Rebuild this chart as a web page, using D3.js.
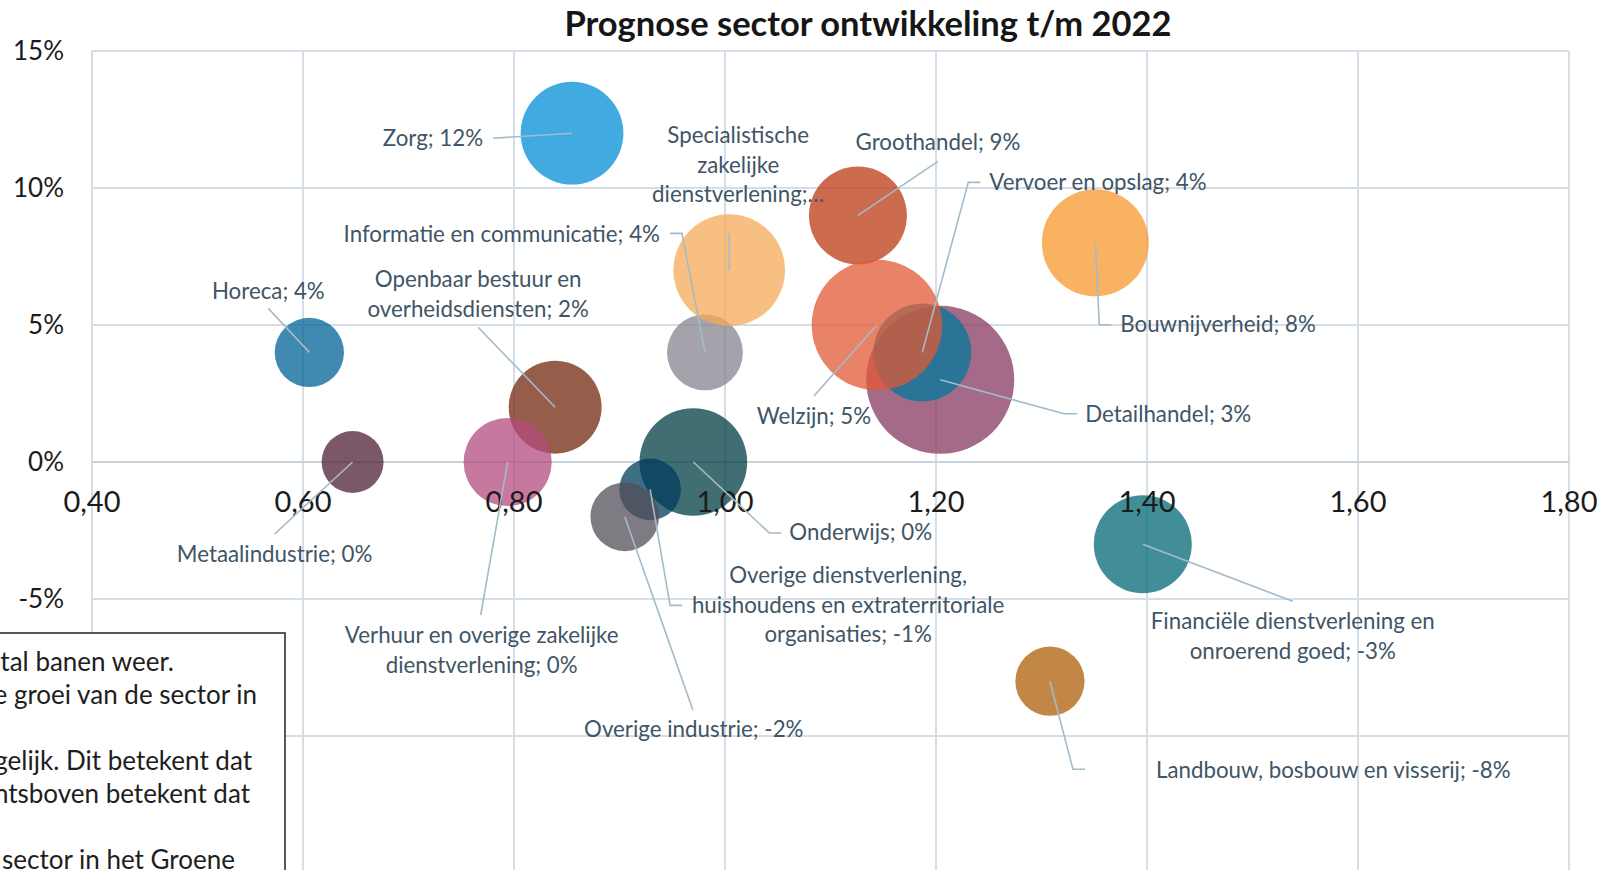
<!DOCTYPE html>
<html>
<head>
<meta charset="utf-8">
<script src="https://cdn.jsdelivr.net/npm/d3@7"></script>
<style>
    body {margin: 0; background: #fff;}
    svg {display: block;}
</style>
</head>
<body>
<svg id="chart" width="1603" height="870"></svg>
<script>
// sectors in the order Excel draws them (alphabetical)
const sectors = [
    "Bouwnijverheid", "Detailhandel", "Financiële dienstverlening en onroerend goed", "Groothandel",
    "Horeca", "Informatie en communicatie", "Landbouw, bosbouw en visserij", "Metaalindustrie",
    "Onderwijs", "Openbaar bestuur en overheidsdiensten",
    "Overige dienstverlening, huishoudens en extraterritoriale organisaties", "Overige industrie",
    "Specialistische zakelijke dienstverlening", "Vervoer en opslag",
    "Verhuur en overige zakelijke dienstverlening", "Welzijn", "Zorg"
]
const ratio = [1.351, 1.204, 1.396, 1.126, 0.606, 0.981, 1.308, 0.647, 0.970, 0.839, 0.929, 0.905, 1.004, 1.187, 0.794, 1.144, 0.855]
const growth = [0.08, 0.03, -0.03, 0.09, 0.04, 0.04, -0.08, 0.00, 0.00, 0.02, -0.01, -0.02, 0.07, 0.04, 0.00, 0.05, 0.12]
const banen = [14300, 27400, 12000, 12000, 6000, 7200, 6000, 4800, 14500, 10800, 4750, 5900, 15600, 12000, 9700, 21300, 13200]
const colors = ["#F6982E", "#883862", "#026877", "#BC3A14", "#006296", "#86838E", "#AE5F08", "#4F2036",
    "#023E43", "#74270F", "#003E5C", "#534F5A", "#F6AA58", "#007A9C", "#B34B7E", "#E05A36", "#018FD7"]
const labelText = [
    ["Bouwnijverheid; 8%"],
    ["Detailhandel; 3%"],
    ["Financiële dienstverlening en", "onroerend goed; -3%"],
    ["Groothandel; 9%"],
    ["Horeca; 4%"],
    ["Informatie en communicatie; 4%"],
    ["Landbouw, bosbouw en visserij; -8%"],
    ["Metaalindustrie; 0%"],
    ["Onderwijs; 0%"],
    ["Openbaar bestuur en", "overheidsdiensten; 2%"],
    ["Overige dienstverlening,", "huishoudens en extraterritoriale", "organisaties; -1%"],
    ["Overige industrie; -2%"],
    ["Specialistische", "zakelijke", "dienstverlening;…"],
    ["Vervoer en opslag; 4%"],
    ["Verhuur en overige zakelijke", "dienstverlening; 0%"],
    ["Welzijn; 5%"],
    ["Zorg; 12%"]
]
const xTicks = [0.4, 0.6, 0.8, 1.0, 1.2, 1.4, 1.6, 1.8]
const yTicks = [0.15, 0.10, 0.05, 0, -0.05, -0.10, -0.15]
const noteLines = ["tal banen weer.", "e groei van de sector in", "", "gelijk. Dit betekent dat", "ntsboven betekent dat", "", "sector in het Groene"]
const title = "Prognose sector ontwikkeling t/m 2022"

// label placement relative to the bubble centre (px): text anchor, first baseline, leader bends
const labelPlacement = [
    {anchor: "start", dx: 25, dy: 89, leader: [[4, 82], [16, 82]]},
    {anchor: "start", dx: 145, dy: 42, leader: [[124, 34], [137, 34]]},
    {anchor: "middle", dx: 150, dy: 85, leader: [[150, 57]]},
    {anchor: "middle", dx: 80, dy: -65, leader: [[80, -54]]},
    {anchor: "middle", dx: -41, dy: -53, leader: [[-41, -44]]},
    {anchor: "end", dx: -45, dy: -110, leader: [[-23, -119], [-35, -119]]},
    {anchor: "start", dx: 106, dy: 97, leader: [[23, 88], [35, 88]]},
    {anchor: "middle", dx: -78, dy: 100, leader: [[-78, 72]]},
    {anchor: "start", dx: 96, dy: 78, leader: [[76, 71], [88, 71]]},
    {anchor: "middle", dx: -77, dy: -120, leader: [[-77, -80]]},
    {anchor: "middle", dx: 198, dy: 94, leader: [[20, 116], [32, 116]]},
    {anchor: "middle", dx: 69, dy: 220, leader: [[68, 193]]},
    {anchor: "middle", dx: 9, dy: -127, leader: [[0, -37]]},
    {anchor: "start", dx: 67, dy: -162, leader: [[46, -170], [58, -170]]},
    {anchor: "middle", dx: -26, dy: 181, leader: [[-27, 153]]},
    {anchor: "middle", dx: -63, dy: 99, leader: [[-63, 71]]},
    {anchor: "end", dx: -89, dy: 13, leader: [[-79, 5]]}
]

const width = 1603
const height = 870
const font = "Lato, 'Open Sans', sans-serif"
const plot = {left: 92, right: 1569, top: 51, bottom: 873}
const noteTop = 633

const svg = d3.select("#chart")
svg.append("rect").attr("width", width).attr("height", height).attr("fill", "#fff")

const x = d3.scaleLinear().domain([0.4, 1.8]).range([plot.left, plot.right])
const y = d3.scaleLinear().domain([-0.15, 0.15]).range([plot.bottom, plot.top])
const r = d3.scaleSqrt().domain([0, d3.max(banen)]).range([0, 74])

// gridlines
const grid = svg.append("g").attr("stroke", "#D5DEE6").attr("stroke-width", 2)
grid.selectAll("line.v").data(xTicks).enter().append("line")
    .attr("x1", d => x(d)).attr("x2", d => x(d))
    .attr("y1", plot.top).attr("y2", plot.bottom)
grid.selectAll("line.h").data(yTicks).enter().append("line")
    .attr("x1", plot.left).attr("x2", plot.right)
    .attr("y1", d => y(d)).attr("y2", d => y(d))
    .attr("stroke", d => d === 0 ? "#C7D4DE" : null)

// y axis labels (the lower ones sit behind the explanation box)
const fmtPct = d3.format(".0%")
svg.append("g").selectAll("text").data(yTicks.filter(d => y(d) < noteTop)).enter().append("text")
    .attr("x", 64).attr("y", d => y(d))
    .attr("dy", "0.36em")
    .attr("text-anchor", "end")
    .style("font-family", font).style("font-size", "26px").style("fill", "#1b1b1b")
    .text(d => fmtPct(d).replace("−", "-"))

// bubbles
const idx = d3.range(sectors.length)
svg.append("g").selectAll("circle").data(idx).enter().append("circle")
    .attr("cx", i => x(ratio[i]))
    .attr("cy", i => y(growth[i]))
    .attr("r", i => r(banen[i]))
    .attr("fill", i => colors[i])
    .attr("fill-opacity", 0.75)

// x axis labels (drawn over the bubbles)
const fmtX = v => d3.format(".2f")(v).replace(".", ",")
svg.append("g").selectAll("text").data(xTicks).enter().append("text")
    .attr("x", d => x(d)).attr("y", y(0) + 50)
    .attr("text-anchor", "middle")
    .style("font-family", font).style("font-size", "29px").style("fill", "#1b1b1b")
    .text(fmtX)

// leader lines
const line = d3.line()
svg.append("g").selectAll("path").data(idx).enter().append("path")
    .attr("d", i => {
        const cx = x(ratio[i]), cy = y(growth[i])
        const pts = [[cx, cy]].concat(labelPlacement[i].leader.map(p => [cx + p[0], cy + p[1]]))
        return line(pts)
    })
    .attr("fill", "none")
    .attr("stroke", "#A3BBC8")
    .attr("stroke-width", 1.6)

// data labels
const labels = svg.append("g")
    .style("font-family", font).style("font-size", "22.3px").style("fill", "#405566")
idx.forEach(i => {
    const p = labelPlacement[i]
    const t = labels.append("text")
        .attr("x", x(ratio[i]) + p.dx)
        .attr("y", y(growth[i]) + p.dy)
        .attr("text-anchor", p.anchor)
    labelText[i].forEach((s, k) => {
        t.append("tspan")
            .attr("x", x(ratio[i]) + p.dx)
            .attr("dy", k === 0 ? 0 : 29.5)
            .text(s)
    })
})

// title
svg.append("text")
    .attr("x", 868).attr("y", 36)
    .attr("text-anchor", "middle")
    .style("font-family", font).style("font-size", "34.5px").style("font-weight", "bold").style("fill", "#161616")
    .text(title)

// explanation box, cropped at the left and bottom edge
const note = svg.append("g")
note.append("rect")
    .attr("x", -10).attr("y", noteTop).attr("width", 295).attr("height", 260)
    .attr("fill", "#fff").attr("stroke", "#222").attr("stroke-width", 1.5)
const noteRight = [174, 257, 0, 252, 250, 0, 235]
note.selectAll("text").data(noteLines).enter().append("text")
    .attr("x", (d, i) => noteRight[i])
    .attr("y", (d, i) => 670.5 + i * 33)
    .attr("text-anchor", "end")
    .style("font-family", font).style("font-size", "26px").style("fill", "#1e1e1e")
    .text(d => d)
</script>
</body>
</html>
